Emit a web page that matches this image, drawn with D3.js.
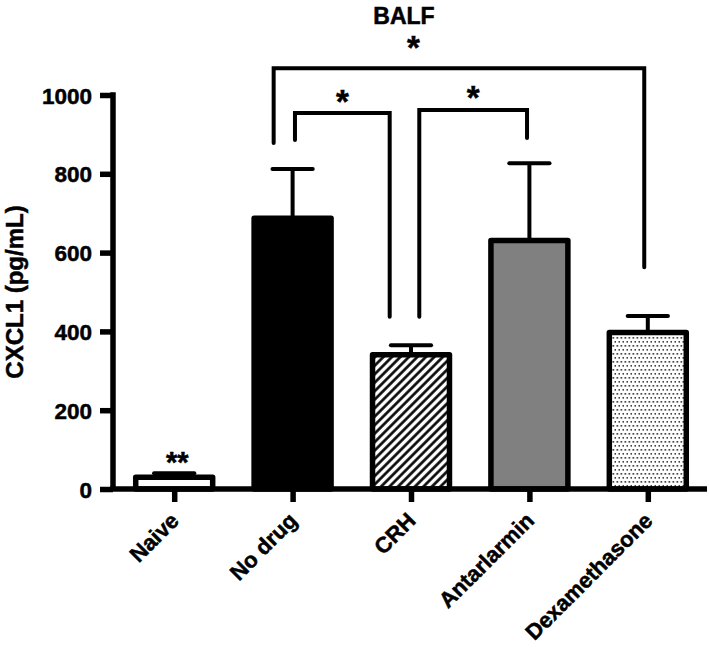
<!DOCTYPE html>
<html>
<head>
<meta charset="utf-8">
<script src="https://cdn.jsdelivr.net/npm/d3@7"></script>
<style>
  html, body { margin: 0; padding: 0; background: #fff; }
  svg text { font-family: "Liberation Sans", Arial, sans-serif; font-weight: bold; fill: #000;
             stroke: #000; stroke-width: 0.5px; }
</style>
</head>
<body>
<svg id="chart" width="709" height="652"></svg>
<script>
// BALF - CXCL1 bar chart (mean + SEM, upward error bars only)

const groups = ["Naive", "No drug", "CRH", "Antarlarmin", "Dexamethasone"];
const means = [30, 687, 341, 631, 397];
const sems = [10, 125, 24, 196, 42];
const yTicks = [0, 200, 400, 600, 800, 1000];

// bar fills, same order as groups
const fills = ["#ffffff", "#000000", "url(#hatch)", "#808080", "url(#dots)"];

// significance brackets: legs sit at a group (plus a small shift in band steps)
// and end at a value; the horizontal part sits at "top"
const brackets = [
  { from: "No drug", fromShift: -0.16, fromEnd: 878, to: "Dexamethasone", toShift: -0.03, toEnd: 563, top: 1068, mark: "*", markAt: "CRH", markShift: 0.02, markValue: 1132 },
  { from: "No drug", fromShift: 0.02, fromEnd: 886, to: "CRH", toShift: -0.18, toEnd: 437, top: 954, mark: "*", markAt: null, markValue: 1000 },
  { from: "CRH", fromShift: 0.07, fromEnd: 437, to: "Antarlarmin", toShift: -0.02, toEnd: 891, top: 962, mark: "*", markAt: null, markValue: 1000 }
];
const naiveMark = { group: "Naive", text: "**", value: 81 };

const svg = d3.select("#chart");

// ---------------------------------------------------------------------------
// patterns
// ---------------------------------------------------------------------------
const defs = svg.append("defs");
defs.append("pattern")
  .attr("id", "hatch")
  .attr("patternUnits", "userSpaceOnUse")
  .attr("width", 6).attr("height", 6)
  .attr("patternTransform", "rotate(45)")
  .call(p => {
    p.append("rect").attr("width", 6).attr("height", 6).attr("fill", "#fff");
    p.append("line").attr("x1", 1.5).attr("y1", 0).attr("x2", 1.5).attr("y2", 6)
      .attr("stroke", "#000").attr("stroke-width", 2.6);
  });

defs.append("pattern")
  .attr("id", "dots")
  .attr("patternUnits", "userSpaceOnUse")
  .attr("width", 4).attr("height", 8)
  .call(p => {
    p.append("rect").attr("width", 4).attr("height", 8).attr("fill", "#fff");
    p.append("rect").attr("x", 0.5).attr("y", 1).attr("width", 1.7).attr("height", 1.7).attr("fill", "#444");
    p.append("rect").attr("x", 2.5).attr("y", 5).attr("width", 1.7).attr("height", 1.7).attr("fill", "#444");
  });

// ---------------------------------------------------------------------------
// scales
// ---------------------------------------------------------------------------
const y = d3.scaleLinear().domain([0, 1000]).range([489, 95]);
const x = d3.scalePoint().domain(groups).range([115, 707]).padding(0.5);
const step = x.step();
const barW = step * 0.65;

const rows = groups.map((g, i) => ({ group: g, mean: means[i], sem: sems[i], fill: fills[i] }));

// ---------------------------------------------------------------------------
// error bars (drawn first so the bar outline covers the stem foot)
// ---------------------------------------------------------------------------
const err = svg.append("g").attr("stroke", "#000").attr("stroke-width", 4);
err.selectAll("line.stem")
  .data(rows)
  .join("line")
  .attr("class", "stem")
  .attr("x1", d => x(d.group)).attr("x2", d => x(d.group))
  .attr("y1", d => y(d.mean)).attr("y2", d => y(d.mean + d.sem));
err.selectAll("line.cap")
  .data(rows)
  .join("line")
  .attr("class", "cap")
  .attr("stroke-linecap", "round")
  .attr("x1", d => x(d.group) - step * 0.17).attr("x2", d => x(d.group) + step * 0.17)
  .attr("y1", d => y(d.mean + d.sem)).attr("y2", d => y(d.mean + d.sem));

// ---------------------------------------------------------------------------
// bars
// ---------------------------------------------------------------------------
svg.append("g")
  .selectAll("rect")
  .data(rows)
  .join("rect")
  .attr("x", d => x(d.group) - barW / 2)
  .attr("y", d => y(d.mean))
  .attr("width", barW)
  .attr("height", d => y(0) - y(d.mean))
  .attr("fill", d => d.fill)
  .attr("stroke", "#000")
  .attr("stroke-width", 5.5)
  .attr("stroke-linejoin", "round");

// ---------------------------------------------------------------------------
// axes
// ---------------------------------------------------------------------------
const yAxis = svg.append("g")
  .attr("transform", "translate(113,0)")
  .call(d3.axisLeft(y).tickValues(yTicks).tickFormat(d3.format("d"))
    .tickSize(13).tickSizeOuter(0).tickPadding(8));
yAxis.select(".domain").attr("stroke", "#000").attr("stroke-width", 5.5)
  .attr("d", `M0,${y(1000) - 2.75}V${y(0)}`);
yAxis.selectAll(".tick line").attr("stroke", "#000").attr("stroke-width", 5.5);
yAxis.selectAll(".tick text").style("font-size", "22.5px").attr("dy", "0.36em");

const xAxis = svg.append("g")
  .attr("transform", `translate(0,${y(0)})`)
  .call(d3.axisBottom(x).tickSize(13).tickSizeOuter(0).tickFormat(""));
xAxis.select(".domain").attr("stroke", "#000").attr("stroke-width", 5.5)
  .attr("d", `M110,0H707`);
xAxis.selectAll(".tick line").attr("stroke", "#000").attr("stroke-width", 5.5);

svg.append("g")
  .selectAll("text")
  .data(groups)
  .join("text")
  .attr("transform", d => `translate(${x(d) + 6},${y(0) + 33}) rotate(-45)`)
  .attr("text-anchor", "end")
  .style("font-size", "22px")
  .text(d => d);

// axis title + chart title
svg.append("text")
  .attr("transform", `translate(23,${(y(0) + y(1000)) / 2}) rotate(-90)`)
  .attr("text-anchor", "middle")
  .style("font-size", "24px")
  .text("CXCL1 (pg/mL)");

svg.append("text")
  .attr("x", 404).attr("y", 24)
  .attr("text-anchor", "middle")
  .style("font-size", "23px")
  .text("BALF");

// ---------------------------------------------------------------------------
// significance brackets
// ---------------------------------------------------------------------------
const br = svg.append("g");
brackets.forEach(b => {
  const x1 = x(b.from) + b.fromShift * step;
  const x2 = x(b.to) + b.toShift * step;
  const path = d3.path();
  path.moveTo(x1, y(b.fromEnd));
  path.lineTo(x1, y(b.top));
  path.lineTo(x2, y(b.top));
  path.lineTo(x2, y(b.toEnd));
  br.append("path")
    .attr("d", path.toString())
    .attr("fill", "none")
    .attr("stroke", "#000")
    .attr("stroke-width", 4)
    .attr("stroke-linecap", "round");
  const mx = b.markAt ? x(b.markAt) + b.markShift * step : (x1 + x2) / 2;
  const my = b.markAt ? y(b.markValue) : y(b.top) - 17;
  addStar(mx, my, b.mark, 33);
});
addStar(x(naiveMark.group) + 3, y(naiveMark.value), naiveMark.text, 29);

// asterisk sits in the upper part of the em box, so push the baseline down
function addStar(cx, cy, txt, size) {
  svg.append("text")
    .attr("x", cx).attr("y", cy + size * 0.5)
    .attr("text-anchor", "middle")
    .style("font-size", size + "px")
    .text(txt);
}
</script>
</body>
</html>
